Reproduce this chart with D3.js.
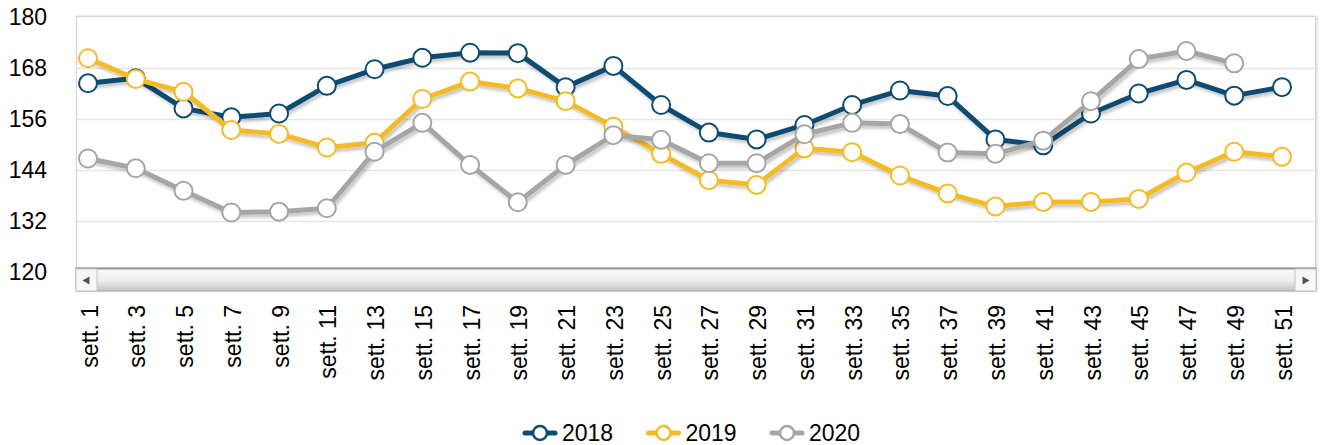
<!DOCTYPE html>
<html>
<head>
<meta charset="utf-8">
<script src="https://cdn.jsdelivr.net/npm/d3@7"></script>
<style>
  body { margin: 0; background: #fff; }
  text { font-family: "Liberation Sans", Arial, sans-serif; fill: #000; }
</style>
</head>
<body>
<script>

const weeks = ['sett. 1', 'sett. 3', 'sett. 5', 'sett. 7', 'sett. 9', 'sett. 11', 'sett. 13',
  'sett. 15', 'sett. 17', 'sett. 19', 'sett. 21', 'sett. 23', 'sett. 25', 'sett. 27',
  'sett. 29', 'sett. 31', 'sett. 33', 'sett. 35', 'sett. 37', 'sett. 39', 'sett. 41',
  'sett. 43', 'sett. 45', 'sett. 47', 'sett. 49', 'sett. 51'];

const years = ['2018', '2019', '2020'];

const values2018 = [164.4, 165.6, 158.5, 156.4, 157.3, 163.8, 167.7, 170.4, 171.6, 171.5,
  163.5, 168.5, 159.3, 152.8, 151.2, 154.6, 159.3, 162.7, 161.4, 151.2, 149.8, 157.3,
  162.0, 165.2, 161.5, 163.5];

const values2019 = [170.3, 165.4, 162.4, 153.4, 152.5, 149.3, 150.4, 160.7, 164.8, 163.2,
  160.2, 154.2, 147.8, 141.6, 140.5, 149.1, 148.2, 142.7, 138.5, 135.4, 136.5, 136.5,
  137.2, 143.4, 148.3, 147.1];

// no value for week 51 yet
const values2020 = [146.7, 144.4, 139.1, 134.0, 134.2, 135.0, 148.3, 155.1, 145.2, 136.4,
  145.2, 152.2, 151.1, 145.6, 145.6, 152.4, 155.1, 154.8, 148.1, 147.8, 150.9, 160.2,
  170.1, 172.0, 169.1, null];

const yTicks = [120, 132, 144, 156, 168, 180];

const colors = ['#0d4c72', '#f4bb25', '#a6a6a6'];

const series = years.map((y, i) => ({
  name: y,
  color: colors[i],
  values: [values2018, values2019, values2020][i]
}));

class chart {

  constructor(opts) {
    this.element = opts.element;
    this.data = opts.data;
    this.draw();
  }

  draw() {
    this.width = 1323;
    this.height = 445;

    // plot box, roughly where the original sits
    this.box = { left: 77, right: 1316, top: 17, bottom: 272, scroll: 291 };

    this.svg = d3.select(this.element).append('svg')
      .attr('width', this.width)
      .attr('height', this.height);

    const defs = this.svg.append('defs');
    defs.append('filter').attr('id', 'lineShadow')
      .attr('x', '-5%').attr('y', '-20%').attr('width', '110%').attr('height', '140%')
      .append('feDropShadow')
        .attr('dx', 2).attr('dy', 3).attr('stdDeviation', 1.8)
        .attr('flood-color', '#000').attr('flood-opacity', 0.22);

    defs.append('filter').attr('id', 'boxShadow')
      .attr('x', '-2%').attr('y', '-5%').attr('width', '104%').attr('height', '110%')
      .append('feDropShadow')
        .attr('dx', 1).attr('dy', 0).attr('stdDeviation', 1.5)
        .attr('flood-color', '#000').attr('flood-opacity', 0.18);

    const grad = defs.append('linearGradient').attr('id', 'scrollGrad')
      .attr('x1', 0).attr('y1', 0).attr('x2', 0).attr('y2', 1);
    grad.append('stop').attr('offset', '0%').attr('stop-color', '#fafafa');
    grad.append('stop').attr('offset', '55%').attr('stop-color', '#eeeeee');
    grad.append('stop').attr('offset', '100%').attr('stop-color', '#c4c4c4');

    this.createScales();
    this.addFrame();
    this.addAxes();
    this.addChart();
    this.addScrollbar();
    this.addLegend();
  }

  createScales() {
    const b = this.box;

    this.xScale = d3.scalePoint()
      .domain(weeks)
      .range([88, 1282]);

    this.yScale = d3.scaleLinear()
      .domain([120, 180])
      .range([b.bottom, b.top]);
  }

  addFrame() {
    const b = this.box;
    this.svg.append('rect')
      .attr('x', b.left - 0.5)
      .attr('y', b.top - 0.5)
      .attr('width', b.right - b.left)
      .attr('height', b.scroll - b.top)
      .attr('fill', '#fff')
      .attr('stroke', '#d6d6d6')
      .attr('filter', 'url(#boxShadow)');
  }

  addAxes() {
    const b = this.box;

    // grid lines
    const grid = d3.axisLeft(this.yScale)
      .tickValues(yTicks.filter(v => v > 120 && v < 180))
      .tickSize(-(b.right - b.left - 1))
      .tickFormat('');

    this.svg.append('g')
      .attr('class', 'grid')
      .attr('transform', `translate(${b.left}, 0)`)
      .call(grid)
      .call(g => g.select('.domain').remove())
      .call(g => g.selectAll('line').attr('stroke', '#e6e6e6').attr('stroke-width', 1.5));

    const yAxis = d3.axisLeft(this.yScale)
      .tickValues(yTicks)
      .tickSize(0)
      .tickPadding(30)
      .tickFormat(d3.format('d'));

    this.svg.append('g')
      .attr('class', 'y axis')
      .attr('transform', `translate(${b.left}, 0)`)
      .call(yAxis)
      .call(g => g.select('.domain').remove())
      .call(g => g.selectAll('text')
        .style('font-size', '23px')
        .attr('fill', '#000'));

    const xAxis = d3.axisBottom(this.xScale).tickSize(0);

    this.svg.append('g')
      .attr('class', 'x axis')
      .attr('transform', `translate(1, ${b.scroll})`)
      .call(xAxis)
      .call(g => g.select('.domain').remove())
      .call(g => g.selectAll('text')
        .style('font-size', '23px')
        .attr('fill', '#000')
        .attr('transform', 'rotate(-90)')
        .attr('text-anchor', 'end')
        .attr('x', -14)
        .attr('y', 0)
        .attr('dy', '0.35em'));
  }

  addChart() {
    const line = d3.line()
      .defined(d => d != null)
      .x((d, i) => this.xScale(weeks[i]))
      .y(d => this.yScale(d));

    const groups = this.svg.selectAll('.series')
      .data(this.data)
      .enter().append('g')
        .attr('class', 'series');

    groups.append('path')
      .attr('d', d => line(d.values))
      .attr('fill', 'none')
      .attr('stroke', d => d.color)
      .attr('stroke-width', 5)
      .attr('stroke-linejoin', 'round')
      .attr('filter', 'url(#lineShadow)');

    groups.each((s, k, nodes) => {
      d3.select(nodes[k]).selectAll('circle')
        .data(s.values.map((v, i) => ({ v, i })).filter(d => d.v != null))
        .enter().append('circle')
          .attr('cx', d => this.xScale(weeks[d.i]))
          .attr('cy', d => this.yScale(d.v))
          .attr('r', 9)
          .attr('fill', '#fff')
          .attr('stroke', s.color)
          .attr('stroke-width', 2);
    });
  }

  addScrollbar() {
    const b = this.box;
    const top = 268;
    const h = b.scroll - top;
    const sb = this.svg.append('g').attr('class', 'scrollbar');

    sb.append('rect')
      .attr('x', b.left - 1).attr('y', top)
      .attr('width', b.right - b.left + 1).attr('height', h)
      .attr('fill', 'url(#scrollGrad)')
      .attr('stroke', '#a8a8a8').attr('stroke-width', 1);

    sb.append('line')
      .attr('x1', b.left - 1).attr('x2', b.right)
      .attr('y1', top + 0.5).attr('y2', top + 0.5)
      .attr('stroke', '#999').attr('stroke-width', 2);

    // arrow buttons
    const btnW = 21;
    [b.left - 1, b.right - btnW].forEach((x, i) => {
      sb.append('rect')
        .attr('x', x).attr('y', top + 1)
        .attr('width', btnW).attr('height', h - 1)
        .attr('fill', '#f7f7f7')
        .attr('stroke', '#c8c8c8');
      const cx = x + btnW / 2, cy = top + h / 2 + 1;
      const pts = i === 0
        ? [[cx - 4, cy], [cx + 3, cy - 4], [cx + 3, cy + 4]]
        : [[cx + 4, cy], [cx - 3, cy - 4], [cx - 3, cy + 4]];
      sb.append('polygon')
        .attr('points', pts.map(p => p.join(',')).join(' '))
        .attr('fill', '#555');
    });
  }

  addLegend() {
    const startX = 525, y = 433, step = 123.5;

    const items = this.svg.append('g').attr('class', 'legend')
      .selectAll('g')
      .data(this.data)
      .enter().append('g')
        .attr('transform', (d, i) => `translate(${startX + i * step}, ${y})`);

    items.append('line')
      .attr('x1', 0).attr('x2', 30)
      .attr('stroke', d => d.color)
      .attr('stroke-width', 5)
      .attr('stroke-linecap', 'round');

    items.append('circle')
      .attr('cx', 15).attr('r', 7)
      .attr('fill', '#fff')
      .attr('stroke', d => d.color)
      .attr('stroke-width', 2.5);

    items.append('text')
      .attr('x', 37)
      .attr('dy', '0.35em')
      .style('font-size', '23px')
      .text(d => d.name);
  }

}

new chart({ element: document.querySelector('body'), data: series });

</script>
</body>
</html>
